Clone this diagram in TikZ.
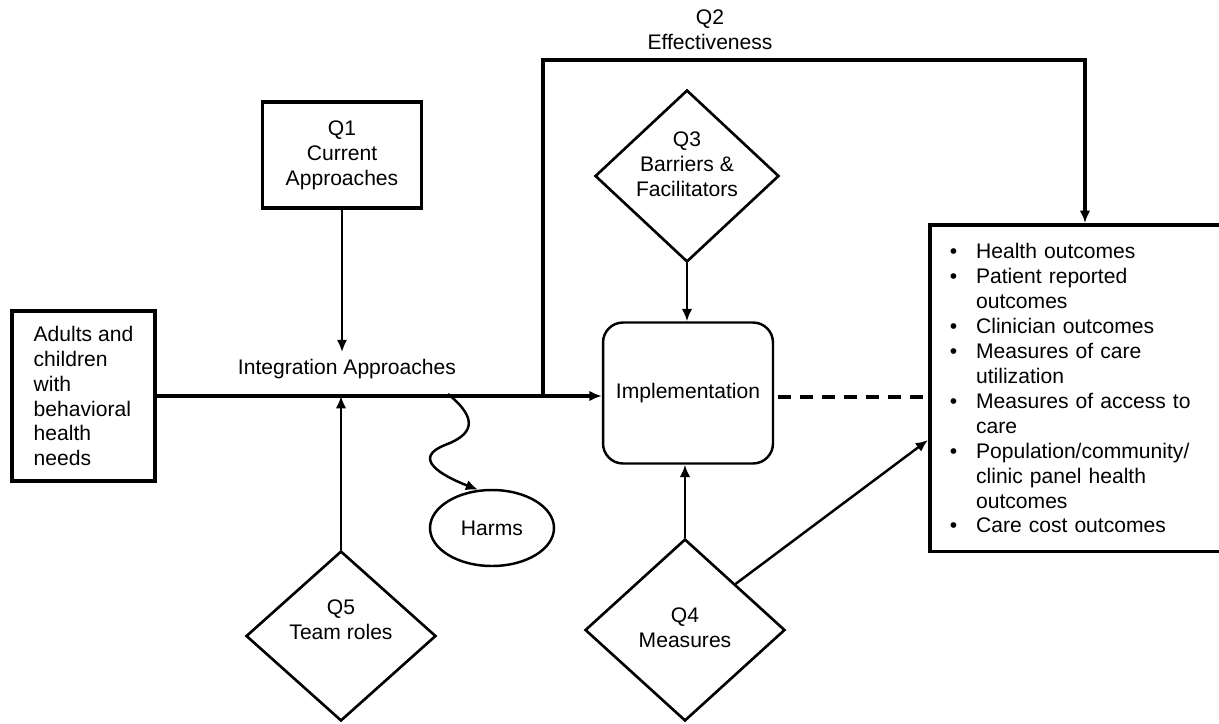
\documentclass[tikz,border=0pt]{standalone}
\usepackage{fontspec}
\setmainfont{Liberation Sans}
\usetikzlibrary{shapes.geometric,arrows.meta}

\begin{document}
\begin{tikzpicture}[x=0.02cm,y=-0.02cm,line width=1.4pt,
	every node/.style={font=\fontsize{12}{14.2}\selectfont},
	box/.style={draw,line width=2pt,align=center},
	qdiam/.style={draw,diamond,line width=1.5pt,align=center,inner sep=0pt,text depth=0pt},
	arr/.style={-{Latex[length=7pt,width=6pt]}}]
	\useasboundingbox (0,0) rectangle (1219,723);

	\node[box,align=left,minimum width=2.86cm,minimum height=3.4cm]
		(adults) at (83.5,396) {Adults and\\children\\with\\behavioral\\health\\needs};
	\node[box,minimum width=3.18cm,minimum height=2.12cm] (q1) at (342,155) {Q1\\Current\\Approaches};
	\node[draw,rounded corners=0.4cm,minimum width=3.4cm,minimum height=2.82cm] (impl) at (688,393) {Implementation};
	\node[box,align=left,anchor=north west,text width=5.2cm,inner xsep=0.4cm,minimum height=6.54cm] (out) at (928,223)
		{\makebox[15pt][l]{\textbullet}Health outcomes\\
		\makebox[15pt][l]{\textbullet}Patient reported\\
		\hspace*{15pt}outcomes\\
		\makebox[15pt][l]{\textbullet}Clinician outcomes\\
		\makebox[15pt][l]{\textbullet}Measures of care\\
		\hspace*{15pt}utilization\\
		\makebox[15pt][l]{\textbullet}Measures of access to\\
		\hspace*{15pt}care\\
		\makebox[15pt][l]{\textbullet}Population/community/\\
		\hspace*{15pt}clinic panel health\\
		\hspace*{15pt}outcomes\\
		\makebox[15pt][l]{\textbullet}Care cost outcomes};

	\node[qdiam,text height=23pt,minimum width=3.68cm,minimum height=3.44cm] (q3) at (687,176) {Q3\\Barriers \&\\Facilitators};
	\node[qdiam,text height=20pt,minimum width=4cm,minimum height=3.64cm] (q4) at (685,630) {Q4\\Measures};
	\node[qdiam,text height=4pt,minimum width=3.8cm,minimum height=3.4cm] (q5) at (341,636) {Q5\\Team roles};
	\node[draw,ellipse,minimum width=2.48cm,minimum height=1.52cm] (harms) at (492,528) {Harms};

	\node (integ) at (347,369) {Integration Approaches};
	\node[align=center] (q2) at (710,30) {Q2\\Effectiveness};

	\coordinate (split) at (543,394); % Q2 branch
	\coordinate (q2top) at (1085,60);
	\coordinate (harmsout) at (448,394);

	\draw[arr,line width=2pt] (adults.east) -- (adults.east -| impl.west);
	\draw[arr,line width=1.8pt] (split) |- (q2top) -- (q2top |- out.north);
	\draw[arr] (q1.south) -- (q1.south |- integ.north);
	\draw[arr] (q5.north) -- (q5.north |- adults.east);
	\draw[arr] (q3.south) -- (q3.south |- impl.north);
	\draw[arr] (q4.north) -- (q4.north |- impl.south);
	\draw[arr] (q4.north east) -- (out.west |- 0,440);
	\draw[line width=2.5pt,dash pattern=on 7.5pt off 5pt] (impl.east) ++(4,4) -- (out.west |- 0,397);

	\draw[arr] (harmsout) .. controls (480,420) and (472,435) .. (445,445)
		.. controls (412,458) and (440,475) .. (harms.110);
\end{tikzpicture}
\end{document}
